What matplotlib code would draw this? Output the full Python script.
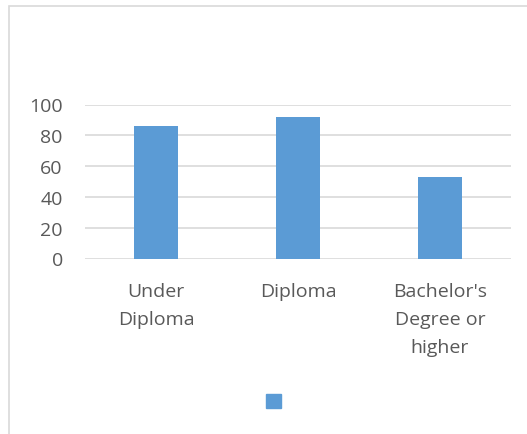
import matplotlib
matplotlib.use("Agg")
import matplotlib.pyplot as plt
from matplotlib.patches import Rectangle

# values
categories = ["Under\nDiploma", "Diploma", "Bachelor's\nDegree or\nhigher"]
values = [86, 92, 53]
yticks = [0, 20, 40, 60, 80, 100]

W, H = 527, 435
plt.rcParams['font.family'] = ['Open Sans', 'DejaVu Sans']

fig = plt.figure(figsize=(W / 100, H / 100), dpi=100)
ax = fig.add_axes([85 / W, (H - 259.5) / H, (511 - 85) / W, 154 / H])

ax.bar(range(len(categories)), values, width=0.31, color='#5b9bd5', zorder=3)
ax.set_xlim(-0.5, len(categories) - 0.5)
ax.set_ylim(0, 100)
ax.set_yticks(yticks)
ax.yaxis.grid(True, color='#d9d9d9', linewidth=1.2, zorder=0)
ax.set_xticks(range(len(categories)))
ax.set_xticklabels(categories, linespacing=1.7)
ax.tick_params(axis='both', length=0, labelsize=14, labelcolor='#595959')
ax.tick_params(axis='x', pad=17)
ax.tick_params(axis='y', pad=16)
for s in ax.spines.values():
    s.set_visible(False)

# empty-label legend marker like the original
fig.patches.append(Rectangle((266 / W, (H - 409) / H), 15 / W, 14 / H,
                             transform=fig.transFigure, color='#5b9bd5'))

# chart area border (runs off the right/bottom edge)
fig.patches.append(Rectangle((9 / W, -0.05), 1.1, (H - 7) / H + 0.05,
                             transform=fig.transFigure, fill=False,
                             edgecolor='#d9d9d9', linewidth=1.2))

fig.savefig('out.png', dpi=100)
